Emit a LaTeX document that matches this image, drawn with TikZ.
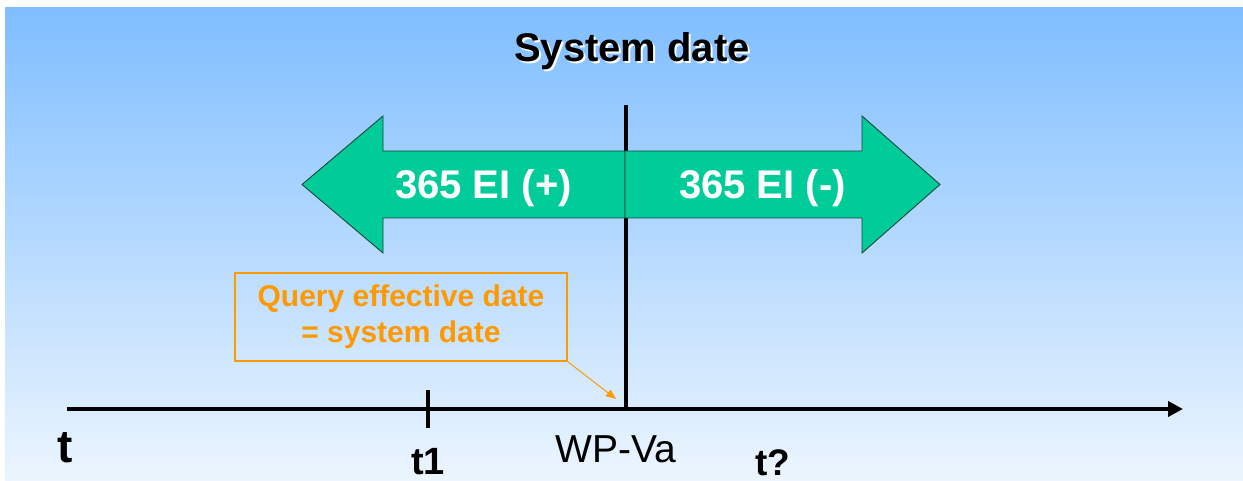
\documentclass[tikz,border=0pt]{standalone}
\usepackage{fontspec}
\setmainfont{Liberation Sans}
\usetikzlibrary{arrows.meta}
\definecolor{bgtop}{RGB}{127,190,255}
\definecolor{bgbot}{RGB}{236,245,254}
\definecolor{eigreen}{RGB}{0,204,153}
\definecolor{eiedge}{RGB}{30,70,55}
\definecolor{qorange}{RGB}{255,153,0}
\begin{document}
\begin{tikzpicture}[x=1pt,y=-1pt,
  eiarrow/.style={fill=eigreen,draw=eiedge,line width=0.9pt,line join=miter},
  eitext/.style={text=white,font=\bfseries\fontsize{40}{48}\selectfont,anchor=base,inner sep=0pt},
  titletext/.style={font=\bfseries\fontsize{40}{48}\selectfont,anchor=base,inner sep=0pt},
  qbox/.style={draw=qorange,line width=1.3pt,minimum width=332pt,minimum height=88pt,inner sep=0pt,
    text=qorange,align=center,font=\bfseries\fontsize{30}{36}\selectfont},
  boldlabel/.style={font=\bfseries,anchor=base,inner sep=0pt},
  plainlabel/.style={anchor=base,inner sep=0pt},
  axisline/.style={line width=4.5pt,-{Triangle[length=15pt,width=15pt]}},
  tickline/.style={line width=3.3pt}]
\useasboundingbox (0,0) rectangle (1243,481);
\shade[top color=bgtop,bottom color=bgbot] (5,8) rectangle (1243,481);
% title with white shadow
\node[titletext,text=white] (titleshadow) at (634,64) {System date};
\node[titletext,text=black] (title) at (632,62) {System date};
% vertical system-date line
\coordinate (vtop) at (626,105);
\coordinate (vbot) at (626,409);
\draw[tickline] (vtop) -- (vbot);
% double arrow
\draw[eiarrow] (625,151) -- (383,151) -- (383,116) -- (302,184.5) -- (383,253) -- (383,218) -- (625,218) -- cycle;
\draw[eiarrow] (625,151) -- (862,151) -- (862,116) -- (940,184.5) -- (862,253) -- (862,218) -- (625,218) -- cycle;
\node[eitext] (plus) at (483.5,199) {365 EI (+)};
\node[eitext] (minus) at (762.5,199) {365 EI (-)};
% time axis
\coordinate (axl) at (67,409);
\coordinate (axr) at (1183,409);
\draw[axisline] (axl) -- (axr);
\coordinate (t1top) at (428,390);
\coordinate (t1bot) at (428,428);
\draw[tickline] (t1top) -- (t1bot);
% query box
\node[qbox] (q) at (401,317) {Query effective date\\= system date};
\coordinate (qtip) at (616,399);
\draw[qorange,line width=1pt,-{Triangle[length=10pt,width=8pt]}] (q.south east) -- (qtip);
% labels
\node[boldlabel,font=\bfseries\fontsize{46}{50}\selectfont] (tlab) at (65.5,462) {t};
\node[boldlabel,font=\bfseries\fontsize{38}{44}\selectfont] (t1lab) at (428,474) {t1};
\node[plainlabel,font=\fontsize{39}{44}\selectfont] (wplab) at (615.5,462) {WP-Va};
\node[boldlabel,font=\bfseries\fontsize{37}{44}\selectfont] (tqlab) at (773,475) {t?};
\end{tikzpicture}
\end{document}
